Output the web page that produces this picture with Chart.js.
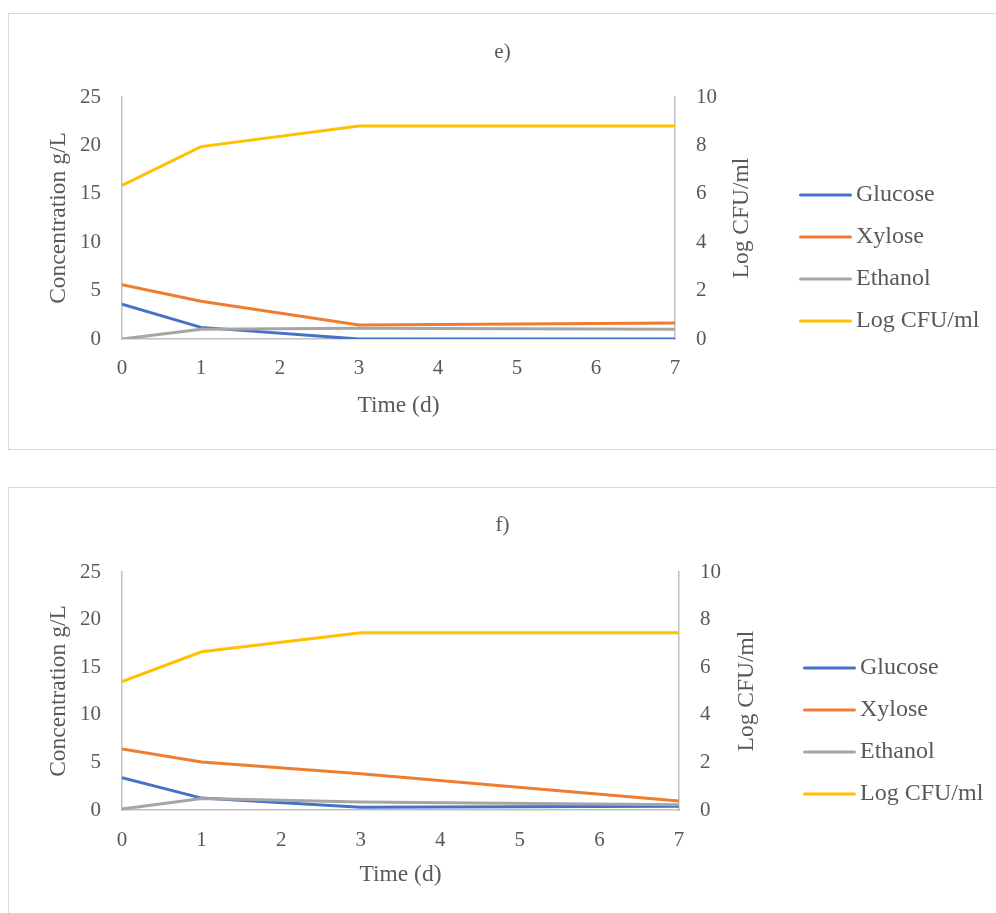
<!DOCTYPE html>
<html>
<head>
<meta charset="utf-8">
<title>Glucose, xylose, ethanol and Log CFU/ml over time</title>
<script src="https://cdn.jsdelivr.net/npm/chart.js@4.4.1/dist/chart.umd.min.js"></script>
<style>
  html, body { margin: 0; padding: 0; background: #fff; }
  body { width: 996px; height: 913px; position: relative; overflow: hidden; }
  .panel { position: absolute; left: 8px; width: 1000px; border: 1px solid #d9d9d9; box-sizing: border-box; background: #fff; }
  #panel-e { top: 13px; height: 437px; }
  #panel-f { top: 487px; height: 460px; }
  .panel canvas { position: absolute; left: 0; top: 0; }
</style>
</head>
<body>
<div class="panel" id="panel-e"><canvas id="chart-e" width="987" height="434"></canvas></div>
<div class="panel" id="panel-f"><canvas id="chart-f" width="987" height="425"></canvas></div>

<script>
// ── Data ──
const days        = [0, 1, 3, 7];
const timeTicks   = [0, 1, 2, 3, 4, 5, 6, 7];
const concTicks   = [0, 5, 10, 15, 20, 25];
const cfuTicks    = [0, 2, 4, 6, 8, 10];
const seriesNames = ['Glucose', 'Xylose', 'Ethanol', 'Log CFU/ml'];

// panel e)
const glucoseE = [3.6, 1.2, 0.0, 0.0];
const xyloseE  = [5.6, 3.9, 1.45, 1.65];
const ethanolE = [0.0, 1.0, 1.1, 1.0];
const logCfuE  = [6.35, 7.95, 8.8, 8.8];

// panel f)
const glucoseF = [3.4, 1.25, 0.3, 0.4];
const xyloseF  = [6.4, 5.05, 3.8, 0.95];
const ethanolF = [0.1, 1.2, 0.85, 0.55];
const logCfuF  = [5.4, 6.65, 7.45, 7.45];

const COLORS = ['#4472C4', '#ED7D31', '#A5A5A5', '#FFC000'];
const TEXT   = '#595959';
const AXIS   = '#bfbfbf';
const FONT   = "'Liberation Serif', 'Times New Roman', serif";

// ── right axis title (reads bottom-to-top, like the left one) ──
const rightTitlePlugin = {
  id: 'rightTitle',
  afterDraw(chart, args, opts) {
    const { ctx, chartArea } = chart;
    ctx.save();
    ctx.translate(opts.x, (chartArea.top + chartArea.bottom) / 2);
    ctx.rotate(-Math.PI / 2);
    ctx.font = `23.5px ${FONT}`;
    ctx.fillStyle = TEXT;
    ctx.textAlign = 'center';
    ctx.textBaseline = 'middle';
    ctx.fillText(opts.text, 0, 0);
    ctx.restore();
  }
};

// ── legend: the built-in one is width-capped and clipped, so draw it here ──
const sideLegendPlugin = {
  id: 'sideLegend',
  afterDraw(chart, args, opts) {
    const { ctx } = chart;
    ctx.save();
    ctx.font = `24px ${FONT}`;
    ctx.textBaseline = 'middle';
    ctx.lineWidth = 3;
    ctx.lineCap = 'round';
    chart.data.datasets.forEach((ds, i) => {
      const y = opts.y + i * opts.step;
      ctx.strokeStyle = ds.borderColor;
      ctx.beginPath();
      ctx.moveTo(opts.x + 1.5, y);
      ctx.lineTo(opts.x + opts.lineLen - 1.5, y);
      ctx.stroke();
      ctx.fillStyle = TEXT;
      ctx.fillText(ds.label, opts.x + opts.lineLen + 4, y);
    });
    ctx.restore();
  }
};

const toPoints = vals => vals.map((v, i) => ({ x: days[i], y: v }));
const fixedTicks = list => scale => { scale.ticks = list.map(v => ({ value: v })); };

function buildPanel(canvasId, title, series, L) {
  const datasets = series.map((vals, i) => ({
    label: seriesNames[i],
    data: toPoints(vals),
    borderColor: COLORS[i],
    backgroundColor: COLORS[i],
    borderWidth: 3,
    pointRadius: 0,
    tension: 0,
    yAxisID: i === 3 ? 'y1' : 'y',
    order: 4 - i,
  }));

  new Chart(document.getElementById(canvasId), {
    type: 'line',
    data: { datasets },
    plugins: [rightTitlePlugin, sideLegendPlugin],
    options: {
      responsive: false,
      animation: false,
      layout: { padding: 0 },
      plugins: {
        title: {
          display: true,
          text: title,
          color: TEXT,
          font: { family: FONT, size: 21, weight: 'normal' },
          padding: { top: L.titleTop, bottom: L.titleBottom },
        },
        legend: { display: false },
        tooltip: { enabled: false },
        rightTitle: { text: 'Log CFU/ml', x: L.rightTitleX },
        sideLegend: { x: L.legendX, y: L.legendY, step: 42, lineLen: 53 },
      },
      scales: {
        x: {
          type: 'linear',
          min: timeTicks[0],
          max: timeTicks[timeTicks.length - 1],
          afterBuildTicks: fixedTicks(timeTicks),
          afterFit: s => { s.height = L.xHeight; },
          grid: { display: false, drawTicks: false },
          border: { display: true, color: AXIS, width: 1.5 },
          ticks: { color: TEXT, font: { family: FONT, size: 21 }, padding: L.xTickPad },
          title: {
            display: true, text: 'Time (d)', color: TEXT,
            font: { family: FONT, size: 23.5 }, padding: { bottom: L.xTitleBottom },
          },
        },
        y: {
          position: 'left',
          min: concTicks[0],
          max: concTicks[concTicks.length - 1],
          afterBuildTicks: fixedTicks(concTicks),
          afterFit: s => { s.width = 113; },
          grid: { display: false, drawTicks: false },
          border: { display: true, color: AXIS, width: 1.5 },
          ticks: { color: TEXT, font: { family: FONT, size: 21 }, padding: 21 },
          title: {
            display: true, text: 'Concentration g/L', color: TEXT,
            font: { family: FONT, size: 23.5 }, padding: { top: 36 },
          },
        },
        y1: {
          position: 'right',
          min: cfuTicks[0],
          max: cfuTicks[cfuTicks.length - 1],
          afterBuildTicks: fixedTicks(cfuTicks),
          afterFit: s => { s.width = L.y1Width; },
          grid: { display: false, drawTicks: false },
          border: { display: true, color: AXIS, width: 1.5 },
          ticks: { color: TEXT, font: { family: FONT, size: 21 }, padding: 21 },
        },
      },
    },
  });
}

// ── INIT ──
buildPanel('chart-e', 'e)', [glucoseE, xyloseE, ethanolE, logCfuE], {
  titleTop: 25.4, titleBottom: 32.4,
  xHeight: 109, xTickPad: 17, xTitleBottom: 28,
  y1Width: 321,
  legendX: 790, legendY: 181,
  rightTitleX: 733,
});

buildPanel('chart-f', 'f)', [glucoseF, xyloseF, ethanolF, logCfuF], {
  titleTop: 24.4, titleBottom: 34.4,
  xHeight: 103, xTickPad: 18, xTitleBottom: 24,
  y1Width: 317,
  legendX: 794, legendY: 180,
  rightTitleX: 738,
});
</script>
</body>
</html>
